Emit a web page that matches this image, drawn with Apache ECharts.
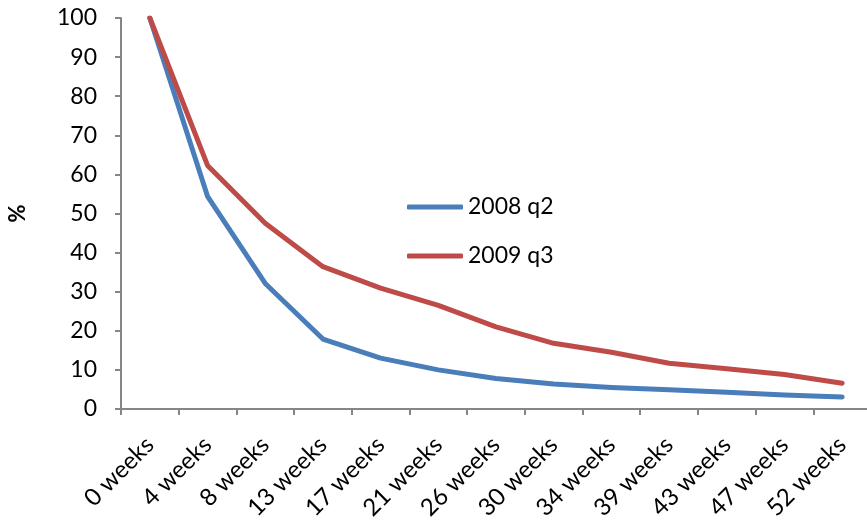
<!DOCTYPE html>
<html>
<head>
<meta charset="utf-8">
<script src="https://cdn.jsdelivr.net/npm/echarts@6/dist/echarts.min.js"></script>
<style>
  html, body { margin: 0; padding: 0; background: #fff; }
  #chart { width: 867px; height: 525px; }
</style>
</head>
<body>
<div id="chart"></div>
<script>
// Share of cohort still remaining, by weeks since start
const categories = ['0 weeks', '4 weeks', '8 weeks', '13 weeks', '17 weeks', '21 weeks', '26 weeks',
  '30 weeks', '34 weeks', '39 weeks', '43 weeks', '47 weeks', '52 weeks'];
const series2008q2 = [100, 54.4, 32.1, 17.9, 13.0, 10.0, 7.8, 6.4, 5.5, 4.9, 4.3, 3.6, 3.1];
const series2009q3 = [100, 62.3, 47.5, 36.4, 30.9, 26.5, 21.0, 16.8, 14.5, 11.7, 10.3, 8.8, 6.6];
const yTicks = { min: 0, max: 100, interval: 10 };

const FONT = 'Lato, "Open Sans", sans-serif';
const FONT_SIZE = 23;
const AXIS_GREY = '#868686';
const BLUE = '#4a7ebb';
const RED = '#be4b48';

const chart = echarts.init(document.getElementById('chart'), null, { renderer: 'canvas' });

chart.setOption({
  animation: false,
  backgroundColor: '#ffffff',
  grid: {
    left: 121, right: -4, top: 18, bottom: 116,
    containLabel: false,
    outerBoundsMode: 'none'
  },
  legend: {
    orient: 'vertical',
    left: 402,
    top: 188,
    icon: 'roundRect',
    itemWidth: 56,
    itemHeight: 5,
    itemGap: 21,
    textStyle: { fontFamily: FONT, fontSize: FONT_SIZE, color: '#000', lineHeight: 28, height: 28, verticalAlign: 'middle' },
    data: [
      { name: '2008 q2', itemStyle: { color: BLUE } },
      { name: '2009 q3', itemStyle: { color: RED } }
    ]
  },
  xAxis: {
    type: 'category',
    data: categories,
    boundaryGap: true,
    axisLine: { lineStyle: { color: AXIS_GREY, width: 2 } },
    axisTick: { show: true, length: 6, lineStyle: { color: AXIS_GREY, width: 2 } },
    axisLabel: {
      rotate: 45,
      margin: 32,
      interval: 0,
      fontFamily: FONT,
      fontSize: 24,
      color: '#000'
    },
    splitLine: { show: false }
  },
  yAxis: {
    type: 'value',
    min: yTicks.min,
    max: yTicks.max,
    interval: yTicks.interval,
    name: '%',
    nameLocation: 'middle',
    nameGap: 92,
    nameRotate: 90,
    nameTextStyle: { fontFamily: FONT, fontSize: 22, fontWeight: 'bold', color: '#000' },
    axisLine: { show: true, lineStyle: { color: AXIS_GREY, width: 2 } },
    axisTick: { show: true, length: 6, lineStyle: { color: AXIS_GREY, width: 2 } },
    axisLabel: { margin: 24, fontFamily: FONT, fontSize: FONT_SIZE, color: '#000' },
    splitLine: { show: false }
  },
  series: [
    {
      name: '2008 q2',
      type: 'line',
      data: series2008q2,
      symbol: 'none',
      color: BLUE,
      lineStyle: { width: 5, color: BLUE, cap: 'round', join: 'round' }
    },
    {
      name: '2009 q3',
      type: 'line',
      data: series2009q3,
      symbol: 'none',
      color: RED,
      lineStyle: { width: 5, color: RED, cap: 'round', join: 'round' }
    }
  ]
});
</script>
</body>
</html>
